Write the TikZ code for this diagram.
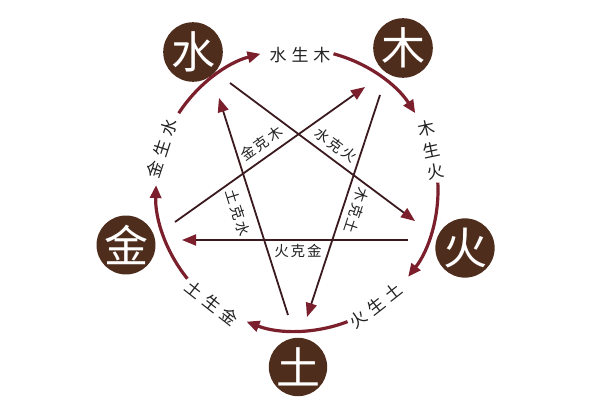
\documentclass[tikz,border=0pt]{standalone}
\usepackage{fontspec}
\setmainfont{Noto Sans CJK SC}
\usetikzlibrary{arrows.meta,calc}
\definecolor{elemfill}{HTML}{4F2D1D}
\definecolor{arcred}{HTML}{7A1F2B}
\definecolor{kedark}{HTML}{3A1A1E}
\definecolor{labeltxt}{HTML}{222222}
\newcommand{\gapA}{\kern5pt}
\newcommand{\gapB}{\kern2pt}
\tikzset{
  elem/.style={circle, fill=elemfill, text=white, minimum size=57pt, inner sep=0pt, font=\fontsize{44}{44}\selectfont},
  shengarc/.style={draw=arcred, line width=3.2pt, -{Triangle[length=13pt,width=11pt]}},
  keline/.style={draw=kedark, line width=1.8pt, -{Triangle[length=14pt,width=11pt,color=arcred]}},
  arclabel/.style={text=labeltxt, font=\fontsize{17}{22}\selectfont, inner sep=0pt},
  kelabel/.style={text=labeltxt, font=\fontsize{14.5}{16}\selectfont, inner sep=0pt},
}
\begin{document}
\begin{tikzpicture}[x=1pt,y=1pt]
\fill[white] (0,0) rectangle (600,400);
\useasboundingbox (0,0) rectangle (600,400);
\coordinate (C) at (297,210);
% element circles
\node[elem] (shui) at (193,348) {水};
\node[elem] (mu)   at (403,352) {木};
\node[elem] (huo)  at (465,152) {火};
\node[elem] (tu)   at (298,33)  {土};
\node[elem] (jin)  at (126,155) {金};
% generating cycle arcs
\coordinate (g1) at ([shift={(147:141pt)}]C);
\coordinate (g2) at ([shift={(75:141pt)}]C);
\coordinate (g3) at ([shift={(3:141pt)}]C);
\coordinate (g4) at ([shift={(-69:141pt)}]C);
\coordinate (g5) at ([shift={(-141:141pt)}]C);
\draw[shengarc] (g1) arc[start angle=147, end angle=105, radius=141pt];
\draw[shengarc] (g2) arc[start angle=75, end angle=33, radius=141pt];
\draw[shengarc] (g3) arc[start angle=3, end angle=-38, radius=141pt];
\draw[shengarc] (g4) arc[start angle=-69, end angle=-111, radius=141pt];
\draw[shengarc] (g5) arc[start angle=-141, end angle=-182, radius=141pt];
% generating labels
\node[arclabel] (l1) at (300,345) {水\gapA 生\gapA 木};
\node[arclabel, rotate=12, align=center] (l2) at (431,250) {木\\生\\火};
\node[arclabel, rotate=38] (l3) at (376,94) {火\gapA 生\gapA 土};
\node[arclabel, rotate=-38] (l4) at (212,97) {土\gapA 生\gapA 金};
\node[arclabel, rotate=72] (l5) at (162,252) {金\gapA 生\gapA 水};
% controlling lines
\coordinate (k1s) at (230,317); \coordinate (k1e) at (415,179);
\coordinate (k2s) at (408,160); \coordinate (k2e) at (182,160);
\coordinate (k3s) at (175,178); \coordinate (k3e) at (365,313);
\coordinate (k4s) at (380,305); \coordinate (k4e) at (307,83);
\coordinate (k5s) at (288,85);  \coordinate (k5e) at (219,302);
\draw[keline] (k1s) -- (k1e);
\draw[keline] (k2s) -- (k2e);
\draw[keline] (k3s) -- (k3e);
\draw[keline] (k4s) -- (k4e);
\draw[keline] (k5s) -- (k5e);
% controlling labels
\node[kelabel, rotate=35.4] (m3) at (261.5,256.5) {金\gapB 克\gapB 木};
\node[kelabel, rotate=-36.7] (m1) at (336,255) {水\gapB 克\gapB 火};
\node[kelabel] (m2) at (298,149) {火\gapB 克\gapB 金};
\node[kelabel, rotate=-72.4] (m5) at (237.7,187.3) {土\gapB 克\gapB 水};
\node[kelabel, rotate=-108.2] (m4) at (356.7,189.3) {木\gapB 克\gapB 土};
\end{tikzpicture}
\end{document}
